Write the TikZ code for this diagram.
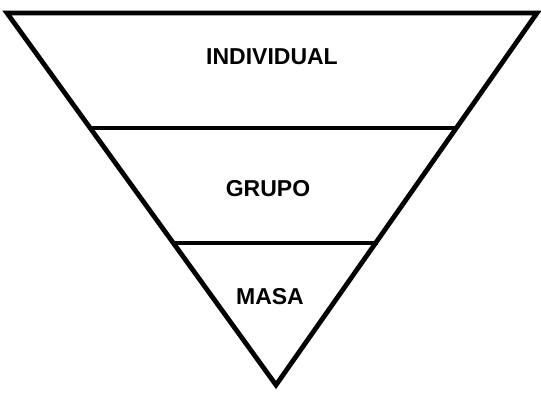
\documentclass[tikz,border=0pt]{standalone}
\usepackage{fontspec}
\setmainfont{Liberation Sans}
\begin{document}
\begin{tikzpicture}[x=1pt,y=-1pt,
  edge/.style={line width=4.8pt,line join=miter,line cap=butt},
  lab/.style={font=\bfseries\fontsize{23}{26}\selectfont,inner sep=0pt}]
\useasboundingbox (0,0) rectangle (541,392);
\coordinate (tl) at (7,13);
\coordinate (tr) at (537,13);
\coordinate (ap) at (276,385);
\coordinate (l1) at (90,128);
\coordinate (r1) at (458,128);
\coordinate (l2) at (173,243);
\coordinate (r2) at (378,243);
\draw[edge] (tl) -- (tr) -- (ap) -- cycle;
\draw[edge] (l1) -- (r1);
\draw[edge] (l2) -- (r2);
\node[lab] (ind) at (272,57) {INDIVIDUAL};
\node[lab] (gru) at (268,189) {GRUPO};
\node[lab] (mas) at (270,297) {MASA};
\end{tikzpicture}
\end{document}
